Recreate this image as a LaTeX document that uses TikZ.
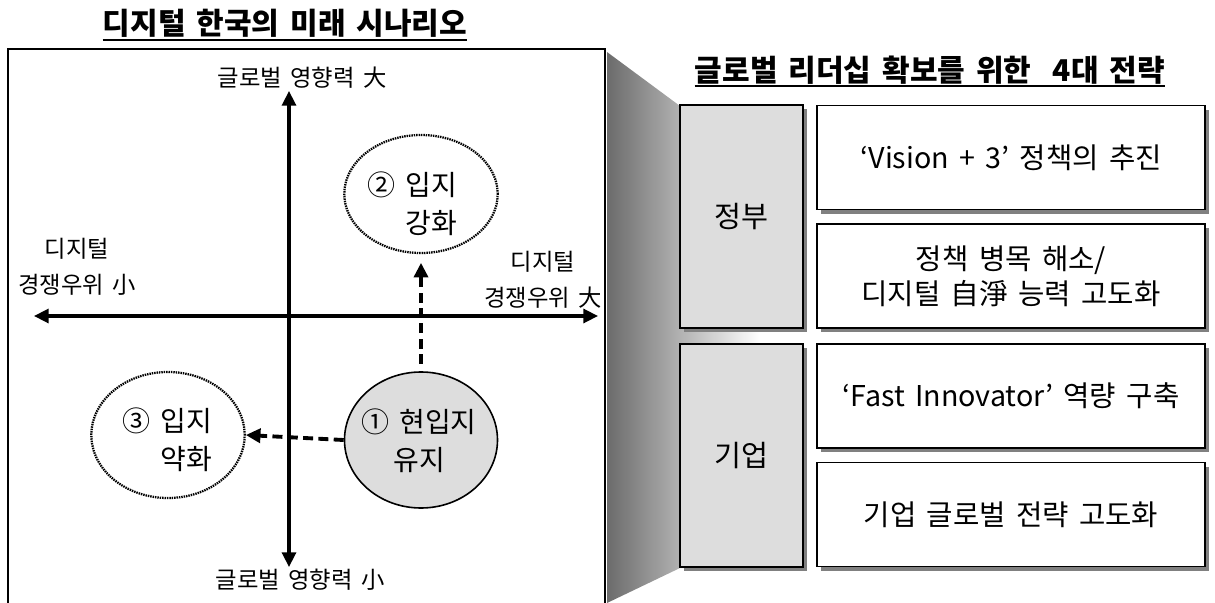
\documentclass[tikz,border=0pt]{standalone}
\usepackage{fontspec}
\setmainfont{Noto Sans CJK KR}[WordSpace=1.6]
\usetikzlibrary{arrows.meta,shapes.geometric,shadows}
\definecolor{lg}{HTML}{DDDDDD}
\begin{document}
\begin{tikzpicture}[x=0.75pt,y=-0.75pt,
  ttl/.style={font=\bfseries\fontsize{22.5pt}{26pt}\selectfont, inner sep=0pt},
  lbl/.style={font=\fontsize{17.5pt}{27pt}\selectfont, align=center, inner sep=0pt},
  ctxt/.style={font=\fontsize{21pt}{28.5pt}\selectfont, inner sep=0pt},
  btxt/.style={font=\fontsize{21.5pt}{26.5pt}\selectfont, align=center},
  shd/.style={drop shadow={shadow xshift=3pt, shadow yshift=-3pt, fill=black!50, opacity=1}},
  colbox/.style={draw, line width=1.1pt, fill=lg, minimum width=92.25pt, minimum height=167.25pt, shd, font=\fontsize{22pt}{26pt}\selectfont},
  strbox/.style={draw, line width=1.1pt, fill=white, minimum width=291pt, minimum height=78pt, shd, btxt},
  axis/.style={line width=2.4pt, {Triangle[length=11pt,width=10.5pt]}-{Triangle[length=11pt,width=10.5pt]}},
  dasharr/.style={line width=2.9pt, dash pattern=on 7.5pt off 4pt, -{Triangle[length=11pt,width=10.5pt]}},
  dotell/.style={ellipse, draw, line width=1.7pt, dash pattern=on 1.1pt off 0.7pt, inner sep=0pt},
]
\useasboundingbox (0,0) rectangle (1215,603);
\clip (0,0) rectangle (1215,603);

% titles
\node[ttl, anchor=base] (t1) at (285,35) {디지털 한국의 미래 시나리오};
\draw[line width=1.5pt] ([yshift=-3.5pt]t1.base west) -- ([yshift=-3.5pt]t1.base east);
\node[ttl, anchor=base] (t2) at (930,81) {글로벌 리더십 확보를 위한\hspace{0.35em} 4대 전략};
\draw[line width=1.5pt] ([yshift=-3.5pt]t2.base west) -- ([yshift=-3.5pt]t2.base east);

% gradient connector
\shade[left color=black!58, right color=white] (607,52) -- (680,106) -- (760,106) -- (760,568) -- (680,568) -- (607,603) -- cycle;

% left frame
\draw[line width=1.5pt] (8,49) rectangle (605,620);

% axes
\coordinate (vt) at (289,91);
\coordinate (vb) at (289,567);
\coordinate (hl) at (34,316);
\coordinate (hr) at (598,316);
\draw[axis] (vt) -- (vb);
\draw[axis] (hl) -- (hr);

% axis labels
\node[lbl] (ltop) at (302,78) {글로벌 영향력 大};
\node[lbl] (lbot) at (300,580) {글로벌 영향력 小};
\node[lbl] (lleft) at (77,267) {디지털\\경쟁우위 小};
\node[lbl] (lright) at (543,280) {디지털\\경쟁우위 大};

% scenario ellipses
\node[ellipse, draw, line width=1.2pt, fill=lg, minimum width=114.75pt, minimum height=102pt, inner sep=0pt] (c1) at (421,440) {};
\node[ctxt, align=center] (c1t) at (419,441) {① 현입지\\유지};
\node[dotell, minimum width=115pt, minimum height=88.5pt] (c2) at (421,194) {};
\node[ctxt, align=right] (c2t) at (412,204) {② 입지\\강화};
\node[dotell, minimum width=115pt, minimum height=94.5pt] (c3) at (168,435) {};
\node[ctxt, align=right] (c3t) at (167,440) {③ 입지\\약화};

\draw[dasharr, shorten <=5.5pt, shorten >=6.5pt] (c1.north) -- (c2.south);
\draw[dasharr] (c1.west) -- (c3.east);

% right panel
\node[colbox] (gov) at (741.5,216.5) {정부};
\node[colbox] (ent) at (741.5,455.5) {기업};
\node[strbox] (s1) at (1011,157.5) {‘Vision + 3’ 정책의 추진};
\node[strbox] (s2) at (1011,276) {정책 병목 해소/\\디지털 自淨 능력 고도화};
\node[strbox] (s3) at (1011,396) {‘Fast Innovator’ 역량 구축};
\node[strbox] (s4) at (1011,514.5) {기업 글로벌 전략 고도화};
\end{tikzpicture}
\end{document}
